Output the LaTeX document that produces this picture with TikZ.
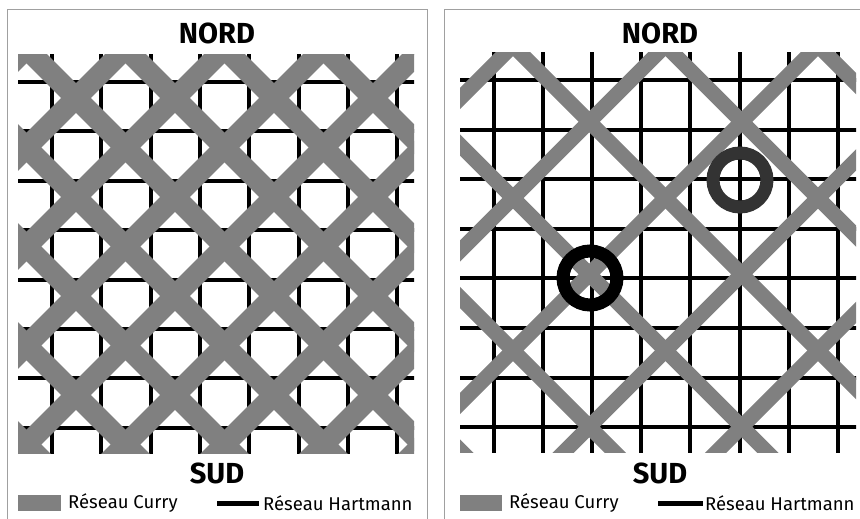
\documentclass[tikz,border=0pt]{standalone}
\usepackage{fontspec}
\setmainfont{Fira Sans}
\usepackage{tikz}
\usetikzlibrary{positioning}
\definecolor{currygray}{HTML}{808080}
\definecolor{framegray}{HTML}{A0A0A0}
\definecolor{ringdark}{HTML}{333333}

\begin{document}
\begin{tikzpicture}[
    x=1pt, y=-1pt,
    frame/.style={draw=framegray, line width=1pt},
    hartmann/.style={line width=4pt, black},
    curry/.style={line width=21pt, currygray},
    currythin/.style={line width=15pt, currygray},
    ring/.style={line width=13pt},
    title/.style={font=\bfseries\fontsize{29}{33}\selectfont},
    legend/.style={font=\fontsize{18.5}{22}\selectfont, anchor=west, inner sep=0pt},
    swatch/.style={fill=currygray, draw=none}
]
\useasboundingbox[fill=white] (0,0) rectangle (860,519);

% left panel
\draw[frame] (7,519) -- (7,10) -- (427,10) -- (427,519);
\begin{scope}
    \clip (18,55) rectangle (414,453);
    \foreach \k in {0,...,7} {
        \draw[hartmann] ({52+49.3*\k},40) -- ({52+49.3*\k},470);
        \draw[hartmann] (0,{82+49.4*\k}) -- (440,{82+49.4*\k});
    }
    \foreach \c in {-418,-319,-220,-121,-22,77,176,275,374}
        \draw[curry] (\c,0) -- ({\c+520},520);
    \foreach \d in {-24,75,174,273,372,471,570,669,768,867,966}
        \draw[curry] (\d,0) -- ({\d-520},520);
\end{scope}
\node[title] (nordA) at (217,33) {NORD};
\node[title] (sudA) at (217,473) {SUD};
\node[legend] (curryA) at (68,503) {Réseau Curry};
\node[legend] (hartA) at (263,503) {Réseau Hartmann};
\path[swatch] (18,495) rectangle (61,511);
\draw[hartmann, line width=5pt] (217,503) -- ([xshift=-4pt]hartA.west);

% right panel
\draw[frame] (444,519) -- (444,10) -- (870,10);
\begin{scope}
    \clip (460,53) rectangle (856,452);
    \foreach \k in {0,...,7} {
        \draw[hartmann] ({494+49.1*\k},40) -- ({494+49.1*\k},470);
        \draw[hartmann] (440,{80+49.6*\k}) -- (880,{80+49.6*\k});
    }
    \foreach \c in {-142.5,10,162.5,315,467.5,620,772.5}
        \draw[currythin] (\c,0) -- ({\c+520},520);
    \foreach \d in {558.5,711,863.5,1016,1168.5,1321}
        \draw[currythin] (\d,0) -- ({\d-520},520);
\end{scope}
\draw[ring, ringdark] (740,180) circle[radius=27pt];
\draw[ring, black] (590,278) circle[radius=27pt];
\node[title] (nordB) at (660,33) {NORD};
\node[title] (sudB) at (660,473) {SUD};
\node[legend] (curryB) at (509,503) {Réseau Curry};
\node[legend] (hartB) at (705,503) {Réseau Hartmann};
\path[swatch] (460,495) rectangle (502,511);
\draw[hartmann, line width=5pt] (658,503) -- ([xshift=-2pt]hartB.west);
\end{tikzpicture}
\end{document}
